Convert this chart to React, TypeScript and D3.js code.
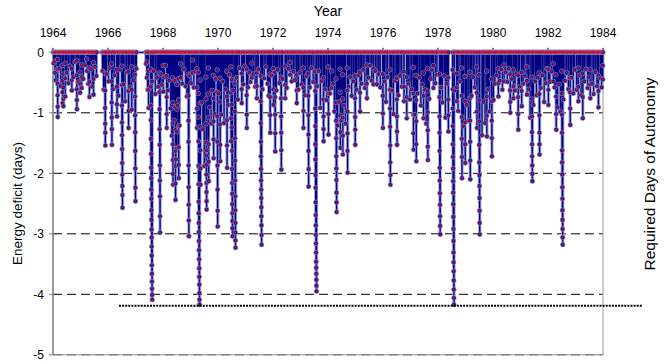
import React from "react";
import * as d3 from "d3";

// ---- Data ----
const yearTicks = [1964, 1966, 1968, 1970, 1972, 1974, 1976, 1978, 1980, 1982, 1984];
const deficitTicks = [0, -1, -2, -3, -4, -5];
const autonomyLevel = -4.19;
const autonomyFrom = 1966.4;
const autonomyTo = 1985.42;

// major deficit events: start year and the daily deficit values during the event
const dipYears = [
  1964.07, 1964.16, 1964.34, 1964.37, 1964.44, 1964.68, 1964.86, 1964.98, 1965.04, 1965.23,
  1965.32, 1965.47, 1965.89, 1966.13, 1966.32, 1966.5, 1966.74, 1966.86, 1966.98, 1967.41,
  1967.47, 1967.55, 1967.87, 1968.01, 1968.13, 1968.35, 1968.44, 1968.5, 1968.56, 1968.64,
  1968.92, 1969.07, 1969.23, 1969.28, 1969.35, 1969.56, 1969.65, 1969.83, 1969.97, 1970.07,
  1970.32, 1970.47, 1970.5, 1970.61, 1970.86, 1971.04, 1971.23, 1971.41, 1971.55, 1971.89,
  1972.01, 1972.07, 1972.29, 1972.44, 1972.62, 1972.86, 1973.1, 1973.28, 1973.53, 1973.83,
  1974.01, 1974.13, 1974.29, 1974.44, 1974.53, 1974.7, 1974.98, 1975.16, 1975.41, 1975.65,
  1975.99, 1976.25, 1976.5, 1976.76, 1976.86, 1977.1, 1977.2, 1977.47, 1977.62, 1977.83,
  1978.05, 1978.37, 1978.53, 1978.68, 1978.86, 1978.98, 1979.16, 1979.41, 1979.49, 1979.77,
  1979.95, 1980.19, 1980.4, 1980.62, 1980.74, 1980.91, 1981.04, 1981.23, 1981.41, 1981.68,
  1982.01, 1982.19, 1982.29, 1982.5, 1982.8, 1983.1, 1983.26, 1983.53, 1983.83, 1983.99,
];
const dipValues = [
  [-0.15, -0.34],
  [-0.12, -0.28, -0.52, -0.71, -0.9, -1.07],
  [-0.22, -0.47, -0.66, -0.84],
  [-0.36, -0.58, -0.77, -0.89],
  [-0.18, -0.43, -0.73],
  [-0.27, -0.46, -0.63],
  [-0.14, -0.38, -0.61, -0.79, -0.94],
  [-0.33, -0.52, -0.67],
  [-0.21, -0.41, -0.59],
  [-0.11, -0.31],
  [-0.26, -0.49, -0.74],
  [-0.17, -0.44, -0.7],
  [-0.35, -0.63, -0.92, -1.18, -1.33, -1.54],
  [-0.19, -0.48, -0.83, -1.08, -1.27, -1.53],
  [-0.29, -0.57, -0.86, -1.06],
  [-0.23, -0.54, -0.88, -1.16, -1.37, -1.6, -1.83, -2.02, -2.21, -2.36, -2.57],
  [-0.32, -0.64, -0.97, -1.25],
  [-0.24, -0.62, -0.95],
  [-0.37, -0.73, -1.04, -1.32, -1.63, -1.92, -2.24, -2.46],
  [-0.16, -0.42],
  [-0.31, -0.62, -0.92],
  [-0.28, -0.57, -0.88, -1.12, -1.43, -1.68, -1.91, -2.08, -2.27, -2.42, -2.61, -2.77, -2.93, -3.06, -3.21, -3.36, -3.52, -3.66, -3.79, -3.91, -4.01, -4.09],
  [-0.34, -0.66, -0.94, -1.27, -1.53, -1.87, -2.12, -2.38, -2.71, -2.98],
  [-0.22, -0.65],
  [-0.39, -0.74, -1.02, -1.25],
  [-0.42, -0.83, -1.17, -1.52, -1.78, -2.01, -2.19],
  [-0.47, -0.91, -1.28, -1.63, -1.88, -2.17, -2.44],
  [-0.53, -0.94, -1.31, -1.58],
  [-0.44, -0.79, -1.22, -1.57, -1.86, -2.08],
  [-0.19, -0.42],
  [-0.36, -0.72, -1.13, -1.48, -1.87, -2.23, -2.52, -2.78, -3.04],
  [-0.13, -0.34],
  [-0.27, -0.58, -0.93, -1.25],
  [-0.33, -0.68, -1.07, -1.47, -1.88, -2.18, -2.47, -2.66, -2.82, -2.97, -3.12, -3.27, -3.42, -3.57, -3.71, -3.84, -3.98, -4.09, -4.17],
  [-0.46, -0.84, -1.23, -1.62, -1.92, -2.19],
  [-0.41, -0.77, -1.18, -1.49, -1.71, -1.86, -2.02, -2.16, -2.31, -2.46, -2.6],
  [-0.26, -0.69, -1.08, -1.52, -1.81, -2.13],
  [-0.38, -0.76, -1.14, -1.44, -1.75],
  [-0.29, -0.66, -1.06, -1.48, -1.87, -2.27, -2.62, -2.88],
  [-0.43, -0.82, -1.19, -1.53, -1.8],
  [-0.31, -0.73, -1.12, -1.54, -1.91],
  [-0.24, -0.67, -1.09, -1.47],
  [-0.45, -0.86, -1.24, -1.63, -1.93, -2.16, -2.34, -2.51, -2.66, -2.79, -2.91, -3.04],
  [-0.52, -0.98, -1.42, -1.79, -2.12, -2.38, -2.61, -2.82, -2.98, -3.11, -3.23],
  [-0.35, -0.61, -0.84],
  [-0.28, -0.71, -1.03, -1.25],
  [-0.18, -0.42],
  [-0.34, -0.56, -0.76],
  [-0.39, -0.81, -1.17, -1.48, -1.72, -1.93, -2.12, -2.27, -2.41, -2.56, -2.71, -2.86, -3.02, -3.18],
  [-0.36, -0.74, -1.04, -1.33],
  [-0.27, -0.61, -0.87],
  [-0.33, -0.74, -1.03, -1.34, -1.64],
  [-0.41, -0.76, -1.06, -1.33, -1.62, -1.94],
  [-0.23, -0.54, -0.76],
  [-0.17, -0.37],
  [-0.37, -0.63, -0.84],
  [-0.26, -0.58, -0.97, -1.25],
  [-0.35, -0.72, -1.04, -1.36, -1.63, -1.93, -2.22],
  [-0.32, -0.64, -0.93, -1.22, -1.52, -1.77, -2.03, -2.24, -2.48, -2.69, -2.86, -3.02, -3.16, -3.31, -3.46, -3.56, -3.66, -3.76, -3.86, -3.95],
  [-0.42, -0.78, -1.06, -1.27, -1.47],
  [-0.24, -0.68, -1.02, -1.36],
  [-0.31, -0.59],
  [-0.44, -0.83, -1.13, -1.42, -1.72, -1.92, -2.11, -2.32, -2.48, -2.64],
  [-0.28, -0.66, -1.04, -1.32, -1.58],
  [-0.37, -0.77, -1.08, -1.38, -1.69],
  [-0.26, -0.63, -0.98, -1.34, -1.63, -1.99],
  [-0.39, -0.76, -1.07, -1.28, -1.53],
  [-0.33, -0.67, -0.98],
  [-0.21, -0.52, -0.76],
  [-0.27, -0.53],
  [-0.36, -0.72, -1.01, -1.25],
  [-0.29, -0.62, -0.93, -1.23, -1.54, -1.82, -2.03, -2.19],
  [-0.43, -0.78, -1.06, -1.31, -1.53],
  [-0.32, -0.57, -0.81],
  [-0.41, -0.74, -1.09],
  [-0.25, -0.68, -1.03, -1.34, -1.61],
  [-0.38, -0.79, -1.14, -1.52, -1.8],
  [-0.34, -0.72, -1.09],
  [-0.27, -0.64, -0.99, -1.29, -1.56, -1.78],
  [-0.22, -0.59],
  [-0.36, -0.74, -1.06, -1.33, -1.63, -1.91, -2.12, -2.33, -2.52, -2.71, -2.87, -3.01],
  [-0.42, -0.78, -1.04, -1.31],
  [-0.29, -0.61, -0.93, -1.22, -1.52, -1.73, -1.92, -2.13, -2.32, -2.51, -2.72, -2.92, -3.12, -3.31, -3.47, -3.62, -3.77, -3.92, -4.06, -4.17],
  [-0.35, -0.58, -0.81],
  [-0.26, -0.72, -1.07, -1.43, -1.73, -2.08],
  [-0.4, -0.81, -1.16, -1.52, -1.83],
  [-0.33, -0.76, -1.13, -1.48, -1.79, -2.1],
  [-0.24, -0.67, -0.98, -1.25],
  [-0.37, -0.79, -1.14, -1.53, -1.82, -2.03, -2.21, -2.41, -2.62, -2.82, -3.01],
  [-0.31, -0.73, -1.05, -1.39],
  [-0.44, -0.81, -1.13, -1.42, -1.72],
  [-0.27, -0.51, -0.73],
  [-0.21, -0.48],
  [-0.36, -0.63, -0.82, -1.0],
  [-0.29, -0.56, -0.76],
  [-0.38, -0.74, -1.02, -1.28],
  [-0.33, -0.64, -0.89],
  [-0.24, -0.47, -0.7],
  [-0.41, -0.77, -1.06, -1.32, -1.52, -1.72, -1.87, -2.01, -2.13],
  [-0.34, -0.69, -1.04, -1.33, -1.52, -1.69],
  [-0.28, -0.62, -0.87],
  [-0.19, -0.48],
  [-0.37, -0.73, -1.02, -1.28],
  [-0.31, -0.68, -1.03, -1.33, -1.62, -1.82, -2.02, -2.23, -2.42, -2.61, -2.77, -2.92, -3.06, -3.18],
  [-0.42, -0.66, -0.93, -1.2],
  [-0.26, -0.57, -0.81],
  [-0.35, -0.74, -1.09],
  [-0.29, -0.53, -0.76],
  [-0.38, -0.64, -0.91],
  [-0.22, -0.45],
];

// smaller deficit events: year and deepest value
const shallowYears = [
  1964.02, 1964.1, 1964.22, 1964.28, 1964.5, 1964.56, 1964.62, 1964.74, 1964.8, 1964.92,
  1965.1, 1965.16, 1965.28, 1965.38, 1965.42, 1965.53, 1965.58, 1965.8, 1965.84, 1965.95,
  1966.02, 1966.07, 1966.18, 1966.24, 1966.38, 1966.44, 1966.56, 1966.62, 1966.68, 1966.8, 1966.92, 1967.03,
  1967.38, 1967.44, 1967.6, 1967.66, 1967.72, 1967.78, 1967.83, 1967.92, 1967.96,
  1968.05, 1968.09, 1968.18, 1968.23, 1968.28, 1968.32, 1968.4, 1968.47, 1968.53, 1968.6, 1968.7, 1968.76, 1968.82, 1968.87, 1968.96,
  1969.02, 1969.12, 1969.17, 1969.4, 1969.45, 1969.5, 1969.6, 1969.7, 1969.75, 1969.79, 1969.88, 1969.92,
  1970.02, 1970.12, 1970.17, 1970.22, 1970.27, 1970.37, 1970.42, 1970.55, 1970.67, 1970.72, 1970.78, 1970.92, 1970.97,
  1971.09, 1971.14, 1971.18, 1971.29, 1971.35, 1971.47, 1971.62, 1971.68, 1971.74, 1971.8, 1971.84, 1971.95,
  1972.12, 1972.17, 1972.23, 1972.35, 1972.5, 1972.56, 1972.68, 1972.74, 1972.8, 1972.92, 1972.98,
  1973.04, 1973.16, 1973.22, 1973.34, 1973.4, 1973.46, 1973.6, 1973.66, 1973.72, 1973.77, 1973.89, 1973.95,
  1974.07, 1974.18, 1974.23, 1974.35, 1974.4, 1974.48, 1974.58, 1974.63, 1974.75, 1974.8, 1974.86, 1974.92,
  1975.04, 1975.1, 1975.22, 1975.28, 1975.34, 1975.47, 1975.53, 1975.59, 1975.72, 1975.78, 1975.84, 1975.9,
  1976.05, 1976.11, 1976.17, 1976.32, 1976.38, 1976.44, 1976.56, 1976.62, 1976.68, 1976.92, 1976.98,
  1977.04, 1977.15, 1977.26, 1977.32, 1977.38, 1977.42, 1977.53, 1977.57, 1977.68, 1977.74, 1977.78, 1977.9, 1977.96,
  1978.11, 1978.16, 1978.22, 1978.27, 1978.32, 1978.6, 1978.73, 1978.8, 1978.92, 1979.04,
  1979.1, 1979.22, 1979.28, 1979.34, 1979.6, 1979.65, 1979.71, 1979.83, 1979.88,
  1980.02, 1980.07, 1980.13, 1980.25, 1980.3, 1980.34, 1980.46, 1980.52, 1980.57, 1980.68, 1980.8, 1980.85, 1980.97,
  1981.1, 1981.16, 1981.29, 1981.35, 1981.47, 1981.53, 1981.58, 1981.63, 1981.74, 1981.8, 1981.86, 1981.92, 1981.96,
  1982.07, 1982.13, 1982.24, 1982.35, 1982.4, 1982.45, 1982.56, 1982.62, 1982.68, 1982.74, 1982.86, 1982.92, 1982.97,
  1983.04, 1983.16, 1983.2, 1983.32, 1983.38, 1983.44, 1983.48, 1983.6, 1983.66, 1983.72, 1983.78, 1983.9, 1983.95,
];
const shallowDepths = [
  -0.18, -0.46, -0.27, -0.56, -0.34, -0.51, -0.23, -0.41, -0.16, -0.49,
  -0.44, -0.21, -0.52, -0.28, -0.57, -0.24, -0.39, -0.31, -0.62, -0.36,
  -0.48, -0.26, -0.61, -0.38, -0.72, -0.29, -0.53, -0.81, -0.33, -0.58, -0.46, -0.27,
  -0.19, -0.62, -0.48, -0.31, -0.69, -0.42, -0.57, -0.36, -0.54,
  -0.41, -0.22, -0.63, -0.47, -0.93, -1.38, -1.12, -1.77, -0.88, -1.21, -0.52, -0.28, -0.56, -0.73, -0.38,
  -0.51, -0.58, -0.32, -0.83, -1.27, -1.88, -1.62, -0.91, -1.18, -0.63, -1.02, -0.44,
  -0.68, -1.03, -0.48, -1.17, -0.61, -0.87, -0.37, -0.63, -0.42, -0.78, -0.26, -0.53, -0.23,
  -0.58, -0.33, -0.49, -0.36, -0.57, -0.28, -0.61, -0.43, -0.24, -0.52, -0.72, -0.38,
  -0.63, -0.29, -0.51, -0.44, -0.59, -0.27, -0.48, -0.32, -0.46, -0.62, -0.34,
  -0.53, -0.71, -0.39, -0.58, -0.26, -0.49, -0.56, -0.31, -0.92, -0.47, -0.61, -0.79,
  -0.68, -0.52, -0.98, -1.21, -0.82, -1.13, -0.88, -1.18, -0.57, -0.41, -0.72, -0.48,
  -0.62, -0.38, -0.52, -0.29, -0.59, -0.42, -0.22, -0.47, -0.31, -0.53, -0.36, -0.58,
  -0.48, -0.82, -0.41, -0.63, -1.02, -0.47, -0.71, -0.39, -0.57, -0.52, -0.78,
  -0.61, -1.03, -0.68, -0.42, -0.88, -0.53, -0.62, -1.18, -0.77, -0.44, -0.29, -0.51, -0.37,
  -0.58, -0.83, -0.39, -1.08, -0.52, -0.63, -0.97, -0.48, -1.22, -0.87,
  -1.13, -0.72, -0.41, -0.58, -1.37, -0.82, -1.17, -0.61, -0.98,
  -0.79, -0.52, -0.38, -0.47, -0.28, -0.62, -0.33, -0.49, -0.27, -0.44, -0.63, -0.36, -0.57,
  -0.52, -0.39, -0.61, -1.08, -0.87, -0.48, -0.71, -0.42, -0.59, -0.38, -0.82, -0.51, -0.27,
  -0.49, -0.32, -0.58, -0.91, -0.53, -0.98, -0.78, -0.47, -0.34, -0.61, -0.42, -0.68, -0.29,
  -0.62, -0.38, -0.71, -0.48, -0.28, -0.59, -0.41, -0.52, -0.69, -0.33, -0.56, -0.43, -0.58,
];

type Pt = { t: number; v: number };

function buildSeries(): Pt[] {
  const events: { start: number; values: number[] }[] = [];
  dipYears.forEach((yr, i) => {
    if (dipValues[i]) events.push({ start: yr, values: dipValues[i] });
  });
  shallowYears.forEach((yr, i) => {
    if (shallowDepths[i] !== undefined) events.push({ start: yr, values: [shallowDepths[i]] });
  });
  events.sort((a, b) => a.start - b.start);
  const day = 1 / 365;
  const pts: Pt[] = [];
  events.forEach((e) => {
    pts.push({ t: e.start - day, v: 0 });
    e.values.forEach((v, k) => pts.push({ t: e.start + k * day, v }));
    pts.push({ t: e.start + e.values.length * day, v: 0 });
  });
  return pts;
}

export default function App() {
  const W = 670;
  const H = 364;
  const x = d3.scaleLinear().domain([1964, 1984]).range([53, 603]);
  const y = d3.scaleLinear().domain([-5, 0]).range([354.8, 52.3]);
  const series = buildSeries();
  const line = d3
    .line<Pt>()
    .x((d) => x(d.t))
    .y((d) => y(d.v));
  const path = line(series) || "";
  const font = "'Liberation Sans', Arial, sans-serif";
  const x0 = x(1964);
  const x1 = x(1984);

  return (
    <div style={{ position: "absolute", left: 0, top: 0 }}>
      <svg width={W} height={H} style={{ display: "block", background: "#fff" }}>
        {/* gridlines */}
        {deficitTicks
          .filter((t) => t !== 0 && t !== -5)
          .map((t) => (
            <line key={t} x1={x0} x2={x1} y1={y(t)} y2={y(t)} stroke="#000" strokeWidth={1} strokeDasharray="9,5" />
          ))}
        {/* bottom axis */}
        <line x1={x0} x2={x1} y1={y(-5)} y2={y(-5)} stroke="#b0b0b0" strokeWidth={1.5} />
        <line x1={x0} x2={x1} y1={y(-5)} y2={y(-5)} stroke="#707070" strokeWidth={1} strokeDasharray="9,5" />
        {/* right border */}
        <line x1={x1} x2={x1} y1={y(0)} y2={y(-5)} stroke="#a8a8a8" strokeWidth={1.2} />
        {/* top axis */}
        <line x1={x0} x2={x1} y1={y(0)} y2={y(0)} stroke="#333" strokeWidth={1} />
        {yearTicks.map((t) => (
          <g key={t}>
            <line x1={x(t)} x2={x(t)} y1={y(0) - 4.5} y2={y(0)} stroke="#000" strokeWidth={1} />
            <text x={x(t)} y={37} textAnchor="middle" fontFamily={font} fontSize={12}>
              {t}
            </text>
          </g>
        ))}
        <text x={(x0 + x1) / 2} y={16} textAnchor="middle" fontFamily={font} fontSize={14}>
          Year
        </text>
        {/* left axis */}
        <line x1={x0} x2={x0} y1={y(0)} y2={y(-5)} stroke="#808080" strokeWidth={1.6} />
        {deficitTicks.map((t) => (
          <g key={t}>
            <line x1={x0 - 4} x2={x0} y1={y(t)} y2={y(t)} stroke="#808080" strokeWidth={1} />
            <text x={44} y={y(t)} dy="0.35em" textAnchor="end" fontFamily={font} fontSize={12}>
              {t}
            </text>
          </g>
        ))}
        <text
          transform={`translate(22,${(y(0) + y(-5)) / 2}) rotate(-90)`}
          textAnchor="middle"
          fontFamily={font}
          fontSize={13.5}
        >
          Energy deficit (days)
        </text>
        <text transform={`translate(654.5,174) rotate(-90)`} textAnchor="middle" fontFamily={font} fontSize={15.5}>
          Required Days of Autonomy
        </text>
        {/* data line */}
        <path d={path} fill="none" stroke="#a9a9d8" strokeWidth={3.2} strokeLinejoin="round" />
        <path d={path} fill="none" stroke="#000080" strokeWidth={1.3} strokeLinejoin="round" />
        {/* markers */}
        <g>
          {series.map((d, i) => (
            <circle key={i} cx={x(d.t)} cy={y(d.v)} r={2.3} fill="#101088" stroke="#8c8cd0" strokeWidth={0.7} />
          ))}
        </g>
        <g>
          {series.map((d, i) => (
            <circle key={i} cx={x(d.t)} cy={y(d.v)} r={0.95} fill="#ff0000" />
          ))}
        </g>
        {/* required autonomy */}
        <line
          x1={x(autonomyFrom)}
          x2={x(autonomyTo)}
          y1={y(autonomyLevel)}
          y2={y(autonomyLevel)}
          stroke="#000"
          strokeWidth={2}
          strokeDasharray="2,1.1"
        />
      </svg>
    </div>
  );
}
